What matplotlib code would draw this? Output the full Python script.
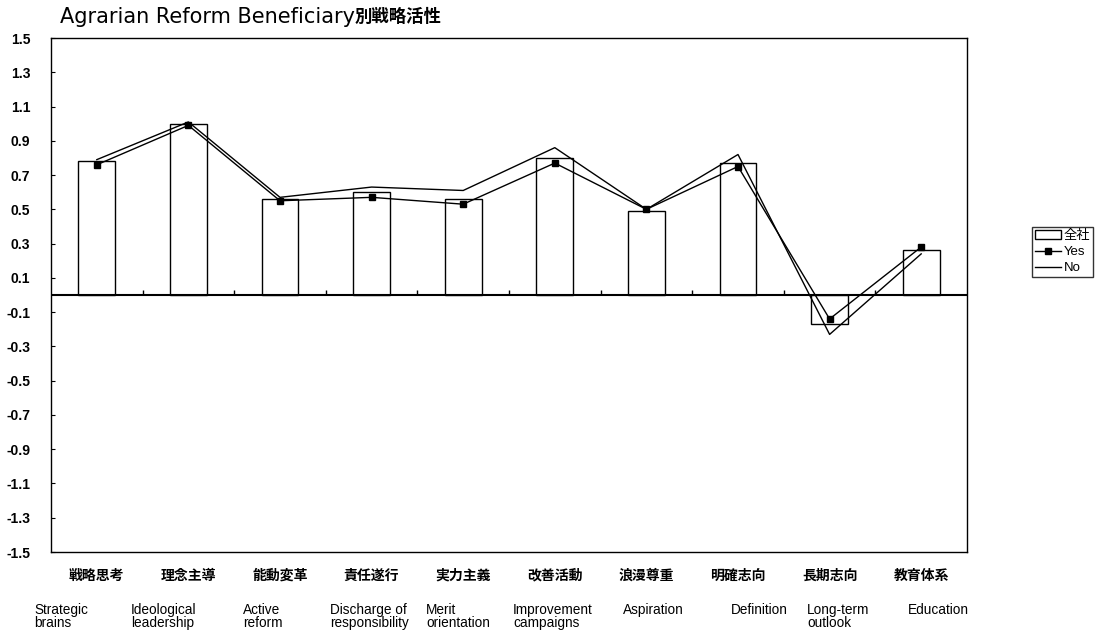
import numpy as np
import matplotlib
matplotlib.use("Agg")
import matplotlib.pyplot as plt

plt.rcParams['font.family'] = ['Liberation Sans', 'Noto Sans CJK JP']

categories_jp = ["戦略思考", "理念主導", "能動変革", "責任遂行", "実力主義",
                 "改善活動", "浪漫尊重", "明確志向", "長期志向", "教育体系"]
categories_en = ["Strategic\nbrains", "Ideological\nleadership", "Active\nreform",
                 "Discharge of\nresponsibility", "Merit\norientation",
                 "Improvement\ncampaigns", "Aspiration", "Definition",
                 "Long-term\noutlook", "Education"]
all_company = [0.78, 1.00, 0.56, 0.60, 0.56, 0.80, 0.49, 0.77, -0.17, 0.26]
yes_values = [0.76, 0.99, 0.55, 0.57, 0.53, 0.77, 0.50, 0.75, -0.14, 0.28]
no_values = [0.79, 1.01, 0.57, 0.63, 0.61, 0.86, 0.50, 0.82, -0.23, 0.24]
y_ticks = np.round(np.arange(-1.5, 1.51, 0.2), 1)

# left x of each english label block (pixels)
en_left_px = [34, 131, 243, 330, 426, 513, 623, 731, 807, 908]

W, H = 1099, 636
fig = plt.figure(figsize=(W / 100, H / 100), dpi=100)
ax = fig.add_axes([51 / W, 1 - 552 / H, 916 / W, 514 / H])

x = np.arange(len(categories_jp))
bars = ax.bar(x, all_company, width=0.4, color="white", edgecolor="black", linewidth=1, zorder=2)
yes_line, = ax.plot(x, yes_values, color="black", lw=1, marker="s", ms=4, zorder=3)
no_line, = ax.plot(x, no_values, color="black", lw=1, zorder=3)

ax.axhline(0, color="black", lw=1.5, zorder=4)
bounds = np.arange(len(categories_jp) + 1) - 0.5
ax.vlines(bounds[1:-1], 0, 0.03, color="black", lw=1, zorder=4)

ax.set_xlim(-0.5, len(categories_jp) - 0.5)
ax.set_ylim(-1.5, 1.5)
ax.set_yticks(y_ticks)
ax.set_yticklabels([f"{v:.1f}" for v in y_ticks], fontsize=10, fontweight="bold")
ax.tick_params(axis="y", direction="in", length=3, pad=15)
ax.set_xticks(x)
ax.set_xticklabels(categories_jp, fontsize=10, fontweight="bold")
ax.tick_params(axis="x", length=0, pad=12)
for s in ax.spines.values():
    s.set_linewidth(1)
    s.set_color("black")

for lbl, px in zip(categories_en, en_left_px):
    fig.text(px / W, 1 - 603 / H, lbl, ha="left", va="top", fontsize=9.8, linespacing=0.95)

# title: latin part and japanese part
t1 = fig.text(60 / W, 1 - 17 / H, "Agrarian Reform Beneficiary", ha="left", va="center",
              fontsize=15, family="DejaVu Sans")
fig.canvas.draw()
bb = t1.get_window_extent()
fig.text(bb.x1 / W, 1 - 17 / H, "別戦略活性", ha="left", va="center",
         fontsize=12.5, fontweight="bold", family="Noto Sans CJK JP")

leg = fig.legend([bars, yes_line, no_line], ["全社", "Yes", "No"],
                 loc="center left", bbox_to_anchor=(1032 / W, 1 - 252 / H), fontsize=9.5,
                 frameon=True, fancybox=False, edgecolor="black", handlelength=2,
                 borderpad=0.2, labelspacing=0.3, handletextpad=0.2, borderaxespad=0)
leg.get_frame().set_linewidth(1)

fig.savefig("out.png", dpi=100)
